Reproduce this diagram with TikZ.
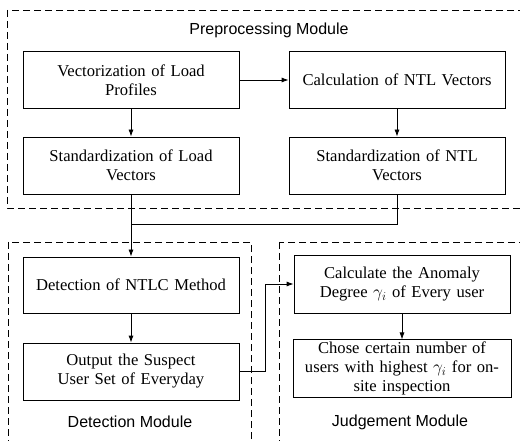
\documentclass[tikz,border=0pt]{standalone}
\usepackage{fontspec}
\setmainfont{Liberation Serif}
\setsansfont{Liberation Sans}
\usetikzlibrary{positioning}
\usetikzlibrary{arrows.meta}
\tikzset{
  stepbox/.style={draw, thick, fill=white, minimum width=216pt, minimum height=57pt,
    text width=210pt, align=center, font=\fontsize{16.6}{19}\selectfont, inner sep=2pt},
  modframe/.style={draw, line width=0.9pt, dash pattern=on 7pt off 4pt},
  modlabel/.style={font=\sffamily\fontsize{16}{19}\selectfont},
  flow/.style={-{Latex[length=7pt,width=5pt]}, thick}
}

\begin{document}
\begin{tikzpicture}[x=1pt, y=-1pt]
  \useasboundingbox (0,0) rectangle (520,441);

  % module frames
  \draw [modframe] (7,10) rectangle (530,208);
  \draw [modframe] (8,242) rectangle (251,450);
  \draw [modframe] (279,242) rectangle (530,450);

  \node [modlabel] (pre) at (269,30) {Preprocessing Module};
  \node [modlabel] (det) at (130,422) {Detection Module};
  \node [modlabel] (jud) at (400,422) {Judgement Module};

  \node [stepbox] (vec)  at (131,80)    {Vectorization of Load\\ Profiles};
  \node [stepbox] (ntl)  at (397,80)    {Calculation of NTL Vectors};
  \node [stepbox] (stdl) at (131,165.5) {Standardization of Load\\ Vectors};
  \node [stepbox] (stdn) at (397,165.5) {Standardization of NTL\\ Vectors};

  \node [stepbox, minimum height=56pt] (ntlc) at (131,285) {Detection of NTLC Method};
  \node [stepbox] (out) at (131,371.5) {Output the Suspect\\ User Set of Everyday};
  \node [stepbox, minimum height=58pt] (deg) at (402,284) {Calculate the Anomaly\\ Degree $\gamma_i$ of Every user};
  \node [stepbox, minimum width=218pt] (cho) at (402,368.5) {Chose certain number of\\ users with highest $\gamma_i$ for on-\\ site inspection};

  \coordinate (merge) at (131,224);

  \draw [flow] (vec) -- (ntl);
  \draw [flow] (vec) -- (stdl);
  \draw [flow] (ntl) -- (stdn);
  \draw [flow] (stdl) -- (ntlc);
  \draw [thick] (stdn.south) |- (merge);
  \draw [flow] (ntlc) -- (out);
  \draw [flow] (out.east) -- ++(26,0) |- (deg.west);
  \draw [flow] (deg) -- (cho);
\end{tikzpicture}
\end{document}
